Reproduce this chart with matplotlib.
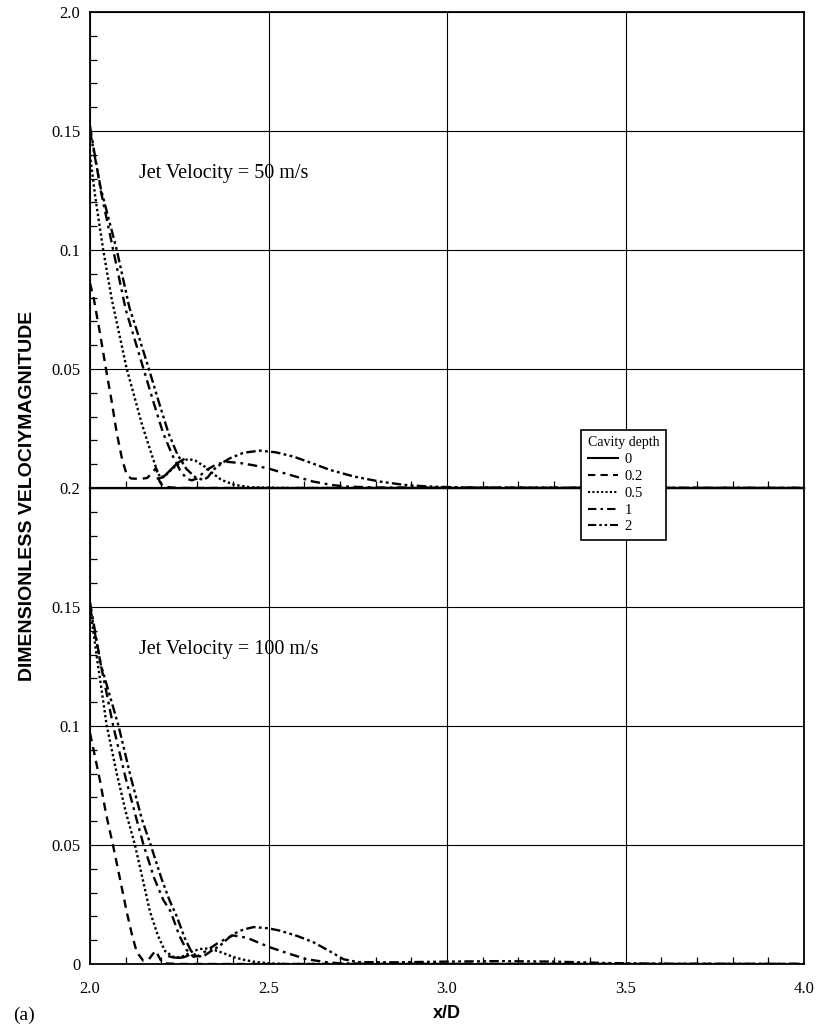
import matplotlib.pyplot as plt
from matplotlib.ticker import MultipleLocator
from matplotlib.lines import Line2D

# cavity depths shown in the legend
depth_labels = ["0", "0.2", "0.5", "1", "2"]

# ---- Jet velocity = 50 m/s (upper panel) ----
# depth 0: only the short solid piece that shows between the other curves
v50_x_d0 = [2.190, 2.205, 2.225, 2.245, 2.262]
v50_y_d0 = [0.0040, 0.0045, 0.0075, 0.0105, 0.0120]

v50_x_d02 = [2.000, 2.010, 2.028, 2.047, 2.060, 2.075, 2.090, 2.103, 2.115, 2.140, 2.160, 2.175,
             2.185, 2.195, 2.205, 2.250, 4.000]
v50_y_d02 = [0.086, 0.080, 0.065, 0.048, 0.037, 0.023, 0.012, 0.0055, 0.0040, 0.0038, 0.0042, 0.0065,
             0.0084, 0.0027, 0.0005, 0.0, 0.0]

v50_x_d05 = [2.000, 2.015, 2.037, 2.060, 2.080, 2.103, 2.125, 2.145, 2.160, 2.175, 2.187, 2.196,
             2.210, 2.230, 2.255, 2.275, 2.295, 2.321, 2.345, 2.368, 2.405, 2.450, 2.550, 4.000]
v50_y_d05 = [0.140, 0.122, 0.100, 0.080, 0.066, 0.050, 0.038, 0.027, 0.020, 0.013, 0.0076, 0.0046,
             0.0050, 0.0080, 0.0110, 0.0122, 0.0115, 0.0090, 0.0060, 0.0034, 0.0013, 0.0003, 0.0, 0.0]

v50_x_d1 = [2.000, 2.030, 2.065, 2.100, 2.130, 2.150, 2.180, 2.205, 2.230, 2.252, 2.270, 2.285,
            2.300, 2.325, 2.355, 2.383, 2.420, 2.460, 2.504, 2.560, 2.625, 2.680, 2.720, 2.800, 4.000]
v50_y_d1 = [0.152, 0.125, 0.100, 0.075, 0.060, 0.050, 0.035, 0.023, 0.014, 0.0075, 0.0040, 0.0032,
            0.0040, 0.0075, 0.0100, 0.0110, 0.0105, 0.0095, 0.0080, 0.0055, 0.0027, 0.0012, 0.0006,
            0.0002, 0.0]

v50_x_d2 = [2.000, 2.030, 2.075, 2.110, 2.140, 2.165, 2.195, 2.220, 2.245, 2.270, 2.295, 2.317,
            2.330, 2.345, 2.370, 2.392, 2.430, 2.476, 2.520, 2.570, 2.620, 2.672, 2.740, 2.812,
            2.880, 2.950, 3.050, 3.500, 4.000]
v50_y_d2 = [0.150, 0.126, 0.100, 0.076, 0.062, 0.050, 0.035, 0.023, 0.014, 0.0080, 0.0045, 0.0034,
            0.0045, 0.0076, 0.0105, 0.0125, 0.0148, 0.0157, 0.0150, 0.0132, 0.0105, 0.0076, 0.0048,
            0.0027, 0.0013, 0.0006, 0.0002, 0.0, 0.0]

# ---- Jet velocity = 100 m/s (lower panel) ----
v100_x_d0 = [2.222, 2.235, 2.250, 2.262, 2.275]
v100_y_d0 = [0.0032, 0.0027, 0.0026, 0.0028, 0.0036]

v100_x_d02 = [2.000, 2.010, 2.028, 2.045, 2.065, 2.085, 2.103, 2.118, 2.131, 2.149, 2.165, 2.175,
              2.184, 2.193, 2.203, 2.250, 4.000]
v100_y_d02 = [0.097, 0.090, 0.077, 0.063, 0.0495, 0.035, 0.0218, 0.012, 0.005, 0.0014, 0.0020, 0.0040,
              0.0056, 0.0030, 0.0003, 0.0, 0.0]

v100_x_d05 = [2.000, 2.020, 2.047, 2.075, 2.100, 2.126, 2.150, 2.168, 2.190, 2.210, 2.233, 2.250,
              2.265, 2.285, 2.308, 2.325, 2.350, 2.375, 2.400, 2.430, 2.457, 2.500, 2.550, 4.000]
v100_y_d05 = [0.150, 0.128, 0.100, 0.080, 0.064, 0.050, 0.034, 0.022, 0.012, 0.0055, 0.0030, 0.0028,
              0.0035, 0.0052, 0.0063, 0.0065, 0.0058, 0.0045, 0.0030, 0.0018, 0.0010, 0.0003, 0.0, 0.0]

v100_x_d1 = [2.000, 2.030, 2.065, 2.100, 2.130, 2.150, 2.180, 2.205, 2.226, 2.250, 2.270, 2.290,
             2.305, 2.330, 2.360, 2.400, 2.440, 2.504, 2.560, 2.607, 2.660, 2.700, 2.800, 4.000]
v100_y_d1 = [0.152, 0.126, 0.100, 0.078, 0.061, 0.050, 0.036, 0.027, 0.022, 0.012, 0.0060, 0.0030,
             0.0035, 0.0060, 0.0090, 0.0120, 0.0110, 0.0070, 0.0042, 0.0020, 0.0008, 0.0003, 0.0, 0.0]

v100_x_d2 = [2.000, 2.030, 2.080, 2.115, 2.145, 2.170, 2.200, 2.222, 2.243, 2.265, 2.283, 2.300,
             2.320, 2.340, 2.364, 2.400, 2.430, 2.458, 2.500, 2.532, 2.580, 2.625, 2.670, 2.710,
             2.750, 2.850, 3.000, 3.150, 3.300, 3.450, 3.600, 4.000]
v100_y_d2 = [0.150, 0.126, 0.100, 0.078, 0.061, 0.050, 0.036, 0.027, 0.020, 0.011, 0.0055, 0.0030,
             0.0035, 0.0055, 0.0077, 0.0125, 0.0145, 0.0155, 0.0150, 0.0140, 0.0118, 0.0092, 0.0055,
             0.0020, 0.0008, 0.0007, 0.0010, 0.0012, 0.0010, 0.0004, 0.0001, 0.0]

# y tick labels as printed on the original figure
ytick_vals = [0, 0.05, 0.1, 0.15, 0.2]
ytick_labels_top = ["0.2", "0.05", "0.1", "0.15", "2.0"]
ytick_labels_bottom = ["0", "0.05", "0.1", "0.15", ""]
xtick_vals = [2.0, 2.5, 3.0, 3.5, 4.0]
xtick_labels = ["2.0", "2.5", "3.0", "3.5", "4.0"]

styles = [
    "-",
    (0, (3.5, 2.5)),
    (0, (1, 1.1)),
    (0, (4, 2, 1.2, 2)),
    (0, (4, 1.4, 1.2, 1.4, 1.2, 1.4)),
]

serif = "Liberation Serif"
sans = "Liberation Sans"

fig = plt.figure(figsize=(8.19, 10.33), dpi=100)
ax_bot = fig.add_axes([0.1099, 0.0668, 0.8718, 0.4608])
ax_top = fig.add_axes([0.1099, 0.5276, 0.8718, 0.4608])

panels = [
    (ax_top, [(v50_x_d0, v50_y_d0), (v50_x_d02, v50_y_d02), (v50_x_d05, v50_y_d05),
              (v50_x_d1, v50_y_d1), (v50_x_d2, v50_y_d2)], "Jet Velocity = 50 m/s", ytick_labels_top),
    (ax_bot, [(v100_x_d0, v100_y_d0), (v100_x_d02, v100_y_d02), (v100_x_d05, v100_y_d05),
              (v100_x_d1, v100_y_d1), (v100_x_d2, v100_y_d2)], "Jet Velocity = 100 m/s", ytick_labels_bottom),
]

for ax, curves, title, ylabels in panels:
    for (xs, ys), ls in zip(curves, styles):
        ax.plot(xs, ys, color="black", linestyle=ls, lw=1.7)
    ax.set_xlim(2.0, 4.0)
    ax.set_ylim(0, 0.2)
    ax.set_yticks(ytick_vals)
    ax.set_yticklabels(ylabels, fontfamily=serif, fontsize=12)
    ax.set_xticks(xtick_vals)
    ax.xaxis.set_minor_locator(MultipleLocator(0.1))
    ax.yaxis.set_minor_locator(MultipleLocator(0.01))
    ax.tick_params(which="both", direction="in", top=False, right=False)
    ax.tick_params(which="major", length=0, pad=7)
    ax.tick_params(which="minor", length=5, width=0.9)
    ax.grid(True, which="major", color="black", lw=0.8)
    for sp in ax.spines.values():
        sp.set_linewidth(1.3)
    ax.text(2.137, 0.132, title, fontfamily=serif, fontsize=14.5, va="center", ha="left")

ax_top.tick_params(axis="x", labelbottom=False)
ax_top.spines["bottom"].set_linewidth(1.6)
ax_bot.spines["top"].set_linewidth(1.6)
ax_bot.set_xticklabels(xtick_labels, fontfamily=serif, fontsize=12)
ax_bot.tick_params(axis="x", which="major", pad=12)

handles = [Line2D([], [], color="black", linestyle=ls, lw=1.5) for ls in styles]
leg = fig.legend(handles, depth_labels, loc="lower left", bbox_to_anchor=(0.7094, 0.4772),
                 borderaxespad=0, title="Cavity depth", alignment="left", frameon=True,
                 fancybox=False, framealpha=1, edgecolor="black",
                 prop={"family": serif, "size": 10.5},
                 title_fontproperties={"family": serif, "size": 10},
                 handlelength=2.1, labelspacing=0.25, borderpad=0.45, handletextpad=0.45)
leg.get_frame().set_linewidth(1.2)

fig.text(28 / 819, 1 - 496 / 1033, "DIMENSIONLESS VELOCIYMAGNITUDE", rotation=90,
         ha="center", va="center", fontfamily=sans, fontweight="bold", fontsize=14)
fig.text(447 / 819, 1 - 1013 / 1033, "x/D", ha="center", va="center",
         fontfamily=sans, fontweight="bold", fontsize=13)
fig.text(24 / 819, 1 - 1015 / 1033, "(a)", ha="center", va="center",
         fontfamily=serif, fontsize=14)

fig.savefig("out.png", dpi=100)
